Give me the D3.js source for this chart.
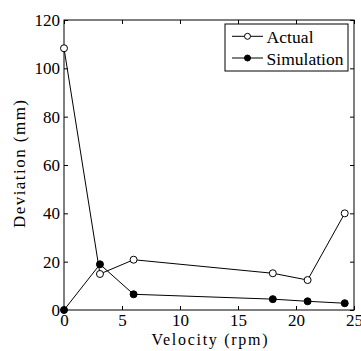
<!DOCTYPE html>
<html>
<head>
<meta charset="utf-8">
<script src="https://cdn.jsdelivr.net/npm/d3@7"></script>
</head>
<body style="margin:0;background:#fff">
<svg id="chart" width="361" height="351" style="font-family:'Liberation Serif',serif"></svg>
<script>
// data
var velocity = [0, 3.1, 6, 18, 21, 24.2];
var actual = [108.3, 14.9, 20.8, 15.2, 12.4, 40];
var simulation = [0, 18.9, 6.5, 4.5, 3.6, 2.8];
var xTicks = [0, 5, 10, 15, 20, 25];
var yTicks = [0, 20, 40, 60, 80, 100, 120];
var seriesNames = ["Actual", "Simulation"];

var svg = d3.select("#chart");
var margin = { left: 64, top: 20, right: 7, bottom: 41 };
var w = 361 - margin.left - margin.right;
var h = 351 - margin.top - margin.bottom;
var font = "'Liberation Serif', 'Times New Roman', serif";
var fs = "17px";

var x = d3.scaleLinear().domain([0, 25]).range([0, w]);
var y = d3.scaleLinear().domain([0, 120]).range([h, 0]);

var g = svg.append("g").attr("transform", `translate(${margin.left},${margin.top})`);

// frame
g.append("rect").attr("width", w).attr("height", h)
  .attr("fill", "none").attr("stroke", "#000").attr("stroke-width", 1);

// axes, ticks point inward
var xAxis = g.append("g").attr("transform", `translate(0,${h})`)
  .call(d3.axisBottom(x).tickValues(xTicks).tickSize(-4).tickPadding(4));
var yAxis = g.append("g")
  .call(d3.axisLeft(y).tickValues(yTicks).tickSize(-4).tickPadding(4));
g.append("g").call(d3.axisTop(x).tickValues(xTicks).tickSize(-4).tickFormat(""));
g.append("g").attr("transform", `translate(${w},0)`)
  .call(d3.axisRight(y).tickValues(yTicks).tickSize(-4).tickFormat(""));
g.selectAll(".domain").remove();
g.selectAll("g").attr("font-family", font).attr("font-size", 17);
g.selectAll(".tick line").attr("stroke", "#000");
g.selectAll(".tick text").style("font-family", font).style("font-size", fs).attr("fill", "#000");
xAxis.selectAll(".tick text").attr("dy", "0.71em");

// axis titles (stretched a little to the reference's wider typeface)
svg.append("text").attr("x", 209.5).attr("y", 344.5)
  .attr("text-anchor", "middle").style("font-family", font).style("font-size", "16px")
  .attr("textLength", 116).attr("lengthAdjust", "spacing")
  .text("Velocity (rpm)");
svg.append("text").attr("transform", "translate(24.5,164) rotate(-90)")
  .attr("text-anchor", "middle").style("font-family", font).style("font-size", fs)
  .attr("textLength", 128).attr("lengthAdjust", "spacing")
  .text("Deviation (mm)");

// series
var line = d3.line().x(d => x(d[0])).y(d => y(d[1]));
var series = [
  { name: seriesNames[0], vals: actual, fill: "#fff", len: 47 },
  { name: seriesNames[1], vals: simulation, fill: "#000", len: 77 }
];
series.forEach(function (s) {
  var pts = velocity.map((v, i) => [v, s.vals[i]]);
  g.append("path").datum(pts).attr("d", line)
    .attr("fill", "none").attr("stroke", "#000").attr("stroke-width", 1);
  g.selectAll(null).data(pts).enter().append("circle")
    .attr("cx", d => x(d[0])).attr("cy", d => y(d[1])).attr("r", 3.5)
    .attr("fill", s.fill).attr("stroke", "#000").attr("stroke-width", 1);
});

// legend
var lg = svg.append("g").attr("transform", "translate(225,24)");
lg.append("rect").attr("width", 123).attr("height", 47)
  .attr("fill", "#fff").attr("stroke", "#000").attr("stroke-width", 1);
series.forEach(function (s, i) {
  var cy = 12.3 + i * 21.7;
  lg.append("line").attr("x1", 7).attr("x2", 38).attr("y1", cy).attr("y2", cy)
    .attr("stroke", "#000");
  lg.append("circle").attr("cx", 22.5).attr("cy", cy).attr("r", 3)
    .attr("fill", s.fill).attr("stroke", "#000");
  lg.append("text").attr("x", 41.5).attr("y", cy + 6.5)
    .style("font-family", font).style("font-size", "17.5px")
    .attr("textLength", s.len).attr("lengthAdjust", "spacing").text(s.name);
});
</script>
</body>
</html>
